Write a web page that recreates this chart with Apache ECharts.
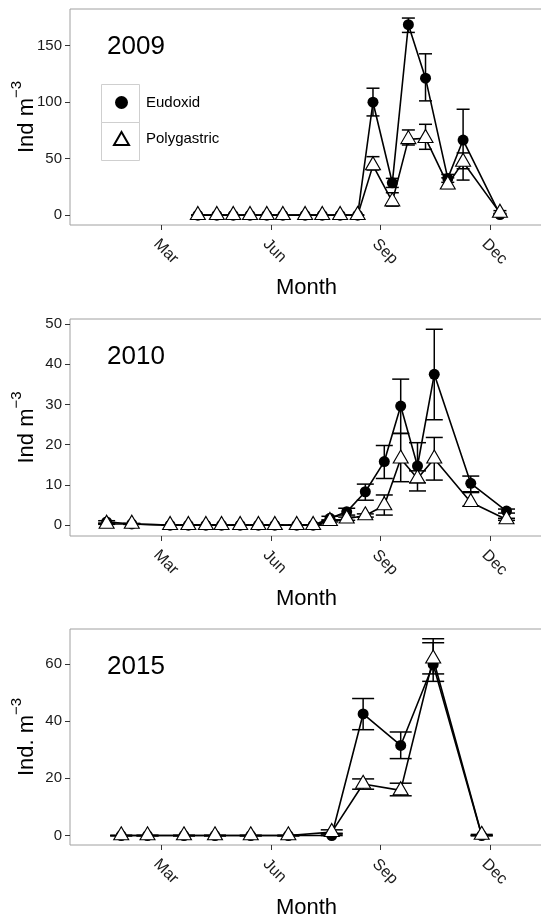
<!DOCTYPE html>
<html>
<head>
<meta charset="utf-8">
<script src="https://cdn.jsdelivr.net/npm/echarts@6/dist/echarts.min.js"></script>
<style>
html, body { margin: 0; padding: 0; background: #fff; }
#main { width: 541px; height: 919px; }
</style>
</head>
<body>
<div id="main"></div>
<script>
// month positions: 0 = 1 Jan, 2 = 1 Mar, 5 = 1 Jun ...
var tickMonths = [2, 5, 8, 11];
var tickNames = ['Mar', 'Jun', 'Sep', 'Dec'];
var years = ['2009', '2010', '2015'];

// 2009
var months2009 = [2.99, 3.51, 3.96, 4.42, 4.88, 5.32, 5.93, 6.40, 6.89, 7.37, 7.79, 8.32, 8.76, 9.23, 9.84, 10.26, 11.27];
var eud2009 = [0, 0, 0, 0, 0, 0, 0, 0, 0, 0, 99.8, 28.6, 168.3, 121.1, 32.5, 66.4, 0.5];
var eud2009Lo = [0, 0, 0, 0, 0, 0, 0, 0, 0, 0, 87.7, 24.5, 161.5, 101.0, 29.0, 31.0, 0];
var eud2009Hi = [0, 0, 0, 0, 0, 0, 0, 0, 0, 0, 112.2, 32.5, 174.2, 142.6, 36.0, 93.6, 1.5];
var poly2009 = [0, 0, 0, 0, 0, 0, 0, 0, 0, 0, 44, 12, 67, 68, 27, 47, 2];
var poly2009Lo = [0, 0, 0, 0, 0, 0, 0, 0, 0, 0, 39.9, 8, 62, 58.2, 23.6, 41, 1];
var poly2009Hi = [0, 0, 0, 0, 0, 0, 0, 0, 0, 0, 51.7, 19.8, 75.3, 80.3, 33, 55, 4];

// 2010
var months2010 = [0.49, 1.18, 2.23, 2.73, 3.21, 3.64, 4.15, 4.65, 5.10, 5.70, 6.15, 6.61, 7.07, 7.58, 8.10, 8.55, 9.01, 9.47, 10.47, 11.45];
var eud2010 = [0.8, 0.3, 0, 0, 0, 0, 0, 0, 0, 0, 0, 1.7, 3.3, 8.3, 15.8, 29.6, 14.7, 37.5, 10.4, 3.5];
var eud2010Lo = [0.5, 0.2, 0, 0, 0, 0, 0, 0, 0, 0, 0, 1.2, 2.5, 6.2, 11.6, 22.8, 8.5, 26.2, 8.3, 3.0];
var eud2010Hi = [1.1, 0.4, 0, 0, 0, 0, 0, 0, 0, 0, 0, 2.2, 4.2, 10.2, 19.8, 36.3, 20.5, 48.7, 12.2, 4.0];
var poly2010 = [0.3, 0.3, 0, 0, 0, 0, 0, 0, 0, 0, 0, 1.0, 1.6, 2.4, 4.9, 16.5, 11.6, 16.5, 5.7, 1.4];
var poly2010Lo = [0.2, 0.2, 0, 0, 0, 0, 0, 0, 0, 0, 0, 0.8, 1.2, 2.0, 2.5, 10.8, 10.5, 11.2, 4.7, 1.2];
var poly2010Hi = [0.4, 0.4, 0, 0, 0, 0, 0, 0, 0, 0, 0, 1.3, 2.0, 2.8, 7.5, 22.8, 13.5, 21.8, 8.1, 1.7];

// 2015
var months2015 = [0.89, 1.61, 2.61, 3.46, 4.44, 5.47, 6.66, 7.52, 8.55, 9.44, 10.77];
var eud2015 = [0, 0, 0, 0, 0, 0, 0, 42.5, 31.5, 59.8, 0];
var eud2015Lo = [0, 0, 0, 0, 0, 0, 0, 37.0, 26.9, 53.9, 0];
var eud2015Hi = [0, 0, 0, 0, 0, 0, 0.5, 47.9, 36.2, 67.4, 0];
var poly2015 = [0, 0, 0, 0, 0, 0, 1.2, 18.0, 15.8, 61.8, 0.2];
var poly2015Lo = [0, 0, 0, 0, 0, 0, 0.8, 16.2, 13.9, 56.5, 0];
var poly2015Hi = [0, 0, 0, 0, 0, 0, 2.0, 19.8, 18.3, 68.8, 0.4];

var yTicks = [[0, 50, 100, 150], [0, 10, 20, 30, 40, 50], [0, 20, 40, 60]];
var yNames = ['{a|Ind m}{b|−3}', '{a|Ind m}{b|−3}', '{a|Ind. m}{b|−3}'];

var panels = [
	{ x: months2009, eud: eud2009, eudLo: eud2009Lo, eudHi: eud2009Hi, poly: poly2009, polyLo: poly2009Lo, polyHi: poly2009Hi },
	{ x: months2010, eud: eud2010, eudLo: eud2010Lo, eudHi: eud2010Hi, poly: poly2010, polyLo: poly2010Lo, polyHi: poly2010Hi },
	{ x: months2015, eud: eud2015, eudLo: eud2015Lo, eudHi: eud2015Hi, poly: poly2015, polyLo: poly2015Lo, polyHi: poly2015Hi },
];

// layout (pixels)
var gridTops = [9, 319, 629];
var gridHeights = [216, 217, 216];
var yRanges = [[-8.7, 182.2], [-2.7, 51.25], [-3.3, 72.2]];
var capHalf = [6.5, 8.5, 11];

var font = '"Liberation Sans", Arial, sans-serif';

function pairs(xs, ys) {
	return xs.map(function (x, i) { return [x, ys[i]]; });
}
function bars(xs, lo, hi) {
	return xs.map(function (x, i) { return [x, lo[i], hi[i]]; });
}
function errorBar(half) {
	return function (params, api) {
		var x = api.value(0);
		var lo = api.coord([x, api.value(1)]);
		var hi = api.coord([x, api.value(2)]);
		var st = { stroke: '#000', lineWidth: 1.5 };
		return {
			type: 'group',
			children: [
				{ type: 'line', shape: { x1: lo[0], y1: lo[1], x2: hi[0], y2: hi[1] }, style: st },
				{ type: 'line', shape: { x1: lo[0] - half, y1: lo[1], x2: lo[0] + half, y2: lo[1] }, style: st },
				{ type: 'line', shape: { x1: hi[0] - half, y1: hi[1], x2: hi[0] + half, y2: hi[1] }, style: st },
			],
		};
	};
}

var chartDom = document.getElementById('main');
var myChart = echarts.init(chartDom);

var grids = [], xAxes = [], yAxes = [], series = [], titles = [];
panels.forEach(function (p, i) {
	grids.push({
		left: 70, top: gridTops[i], width: 473, height: gridHeights[i],
		outerBoundsMode: 'none',
		containLabel: false,
		show: true, borderColor: '#a0a0a0', borderWidth: 1, backgroundColor: '#fff',
	});
	xAxes.push({
		gridIndex: i,
		type: 'value',
		min: -0.514,
		max: 12.45,
		axisLine: { show: false, onZero: false },
		splitLine: { show: false },
		axisTick: { show: true, customValues: tickMonths, length: 5, lineStyle: { color: '#333' } },
		axisLabel: {
			customValues: tickMonths,
			rotate: -45,
			align: 'left',
			verticalAlign: 'top',
			margin: 11,
			fontSize: 16,
			color: '#1a1a1a',
			fontFamily: font,
			formatter: function (v) { return tickNames[tickMonths.indexOf(v)]; },
		},
		name: 'Month',
		nameLocation: 'middle',
		nameGap: 52,
		nameMoveOverlap: false,
		nameTextStyle: { fontSize: 22, color: '#000', fontFamily: font },
	});
	yAxes.push({
		gridIndex: i,
		type: 'value',
		min: yRanges[i][0],
		max: yRanges[i][1],
		axisLine: { show: false, onZero: false },
		splitLine: { show: false },
		axisTick: { show: true, customValues: yTicks[i], length: 5, lineStyle: { color: '#333' } },
		axisLabel: { customValues: yTicks[i], margin: 8, fontSize: 15, color: '#1a1a1a', fontFamily: font },
		name: yNames[i],
		nameLocation: 'middle',
		nameRotate: 90,
		nameGap: 25,
		nameMoveOverlap: false,
		nameTextStyle: {
			fontFamily: font,
			rich: {
				a: { fontSize: 22, color: '#000', lineHeight: 36, fontFamily: font },
				b: { fontSize: 15, color: '#000', lineHeight: 14, verticalAlign: 'top', fontFamily: font },
			},
		},
	});
	titles.push({
		text: years[i],
		left: 107,
		top: gridTops[i] + 25,
		padding: 0,
		textStyle: { fontSize: 26, fontWeight: 'normal', color: '#000', fontFamily: font },
	});
	series.push({
		name: 'Eudoxid err',
		type: 'custom',
		xAxisIndex: i,
		yAxisIndex: i,
		z: 1,
		renderItem: errorBar(capHalf[i]),
		encode: { x: 0, y: [1, 2] },
		data: bars(p.x, p.eudLo, p.eudHi),
	});
	series.push({
		name: 'Polygastric err',
		type: 'custom',
		xAxisIndex: i,
		yAxisIndex: i,
		z: 1,
		renderItem: errorBar(capHalf[i]),
		encode: { x: 0, y: [1, 2] },
		data: bars(p.x, p.polyLo, p.polyHi),
	});
	series.push({
		name: 'Eudoxid',
		type: 'line',
		xAxisIndex: i,
		yAxisIndex: i,
		z: 2,
		symbol: 'circle',
		symbolSize: 11,
		showAllSymbol: true,
		itemStyle: { color: '#000' },
		lineStyle: { color: '#000', width: 1.6 },
		data: pairs(p.x, p.eud),
	});
	series.push({
		name: 'Polygastric',
		type: 'line',
		xAxisIndex: i,
		yAxisIndex: i,
		z: 3,
		symbol: 'triangle',
		symbolSize: [15, 13],
		symbolOffset: [0, '-17%'],
		showAllSymbol: true,
		itemStyle: { color: '#fff', borderColor: '#000', borderWidth: 1.1 },
		lineStyle: { color: '#000', width: 1.6 },
		data: pairs(p.x, p.poly),
	});
});

var option = {
	animation: false,
	backgroundColor: '#fff',
	textStyle: { fontFamily: font },
	title: titles,
	grid: grids,
	xAxis: xAxes,
	yAxis: yAxes,
	graphic: [
		{ type: 'rect', z: 5, shape: { x: 101.5, y: 84.5, width: 38, height: 38 }, style: { fill: '#fff', stroke: '#cfcfcf', lineWidth: 1 } },
		{ type: 'rect', z: 5, shape: { x: 101.5, y: 122.5, width: 38, height: 38 }, style: { fill: '#fff', stroke: '#cfcfcf', lineWidth: 1 } },
	],
	legend: {
		z: 10,
		orient: 'vertical',
		left: 113,
		top: 95,
		padding: 0,
		itemWidth: 15,
		itemHeight: 13,
		itemGap: 21,
		selectedMode: false,
		textStyle: { fontSize: 15, color: '#000', padding: [0, 0, 0, 12], fontFamily: font },
		data: [
			{ name: 'Eudoxid', icon: 'circle' },
			{ name: 'Polygastric', icon: 'triangle' },
		],
	},
	series: series,
};
myChart.setOption(option);
window.addEventListener('resize', function () {
	myChart.resize();
});
</script>
</body>
</html>
